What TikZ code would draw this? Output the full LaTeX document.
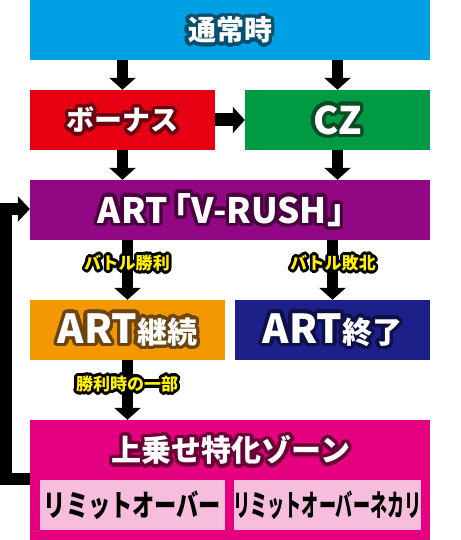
\documentclass[tikz,border=0pt]{standalone}
\usepackage{fontspec}
\newfontfamily\jp{Noto Sans CJK JP}
\usetikzlibrary{arrows.meta}
\definecolor{cTop}{HTML}{00A0E4}\definecolor{oTop}{HTML}{0B4F6E}
\definecolor{cRed}{HTML}{E60012}\definecolor{oRed}{HTML}{6A0010}
\definecolor{cGrn}{HTML}{009944}\definecolor{oGrn}{HTML}{0B4A22}
\definecolor{cPur}{HTML}{920783}\definecolor{oPur}{HTML}{48003F}
\definecolor{cOra}{HTML}{F39800}\definecolor{oOra}{HTML}{6B4410}
\definecolor{cNav}{HTML}{1D2088}\definecolor{oNav}{HTML}{0E104A}
\definecolor{cMag}{HTML}{E4007F}\definecolor{oMag}{HTML}{690036}
\definecolor{cPnk}{HTML}{F6BEDC}
\definecolor{cYel}{HTML}{FFF100}
\newcommand\olx[3]{%
  \setbox0=\hbox{#3}%
  \foreach \ang in {0,15,...,345}{%
    \pgfmathsetlengthmacro\dx{#1*cos(\ang)}%
    \pgfmathsetlengthmacro\dy{#1*sin(\ang)}%
    \rlap{\kern\dx\raisebox{\dy}{\color{#2}\copy0}}%
  }%
  \box0}
\newcommand\fs[1]{\fontsize{#1}{#1}\selectfont}
\begin{document}
\begin{tikzpicture}[x=1pt,y=-1pt,
  box/.style={draw=none,inner sep=0pt,minimum width=#1,anchor=center,text=white,font=\jp\bfseries},
  arr/.style={line width=11pt,-{Triangle[width=26pt,length=12pt]}},
  lbl/.style={inner sep=0pt,text=cYel,font=\jp\bfseries\fs{17}}]
\useasboundingbox (0,0) rectangle (460,540);
\node[box=400pt,minimum height=60pt,fill=cTop] (top) at (230,30) {\fs{28}\olx{3.5pt}{oTop}{通常時}};
\node[box=185pt,minimum height=60pt,fill=cRed] (bonus) at (122.5,120) {\fs{28}\olx{3.5pt}{oRed}{ボーナス}};
\node[box=185pt,minimum height=60pt,fill=cGrn] (cz) at (337.5,120) {\fs{38}\olx{3.5pt}{oGrn}{CZ}};
\node[box=400pt,minimum height=60pt,fill=cPur] (art) at (230,210) {\fs{35}\olx{3.5pt}{oPur}{ART\kern-11pt「V-RUSH」}};
\node[box=195pt,minimum height=60pt,fill=cOra] (cont) at (127.5,330) {\olx{3.5pt}{oOra}{\fs{40}ART\fs{30}継続}};
\node[box=195pt,minimum height=60pt,fill=cNav] (end) at (332.5,330) {\olx{3.5pt}{oNav}{\fs{40}ART\fs{30}終了}};
\node[box=400pt,minimum height=120pt,fill=cMag] (zone) at (230,480) {};
\node[box=0pt,inner sep=0pt] (zonet) at (231,450) {\fs{30}\olx{3.5pt}{oMag}{上乗せ特化ゾーン}};
\node[box=185pt,minimum height=50pt,fill=cPnk,text=black] (lim1) at (132.5,505) {\fs{30}\scalebox{0.74}[1]{リミットオーバー}};
\node[box=185pt,minimum height=50pt,fill=cPnk,text=black] (lim2) at (327.5,505) {\fs{30}\scalebox{0.57}[1]{リミットオーバーネカリ}};
\draw[arr] (bonus.north |- top.south) -- (bonus.north);
\draw[arr] (cz.north |- top.south) -- (cz.north);
\draw[arr,line width=13pt] (bonus.east) -- (cz.west);
\draw[arr] (bonus.south) -- (bonus.south |- art.north);
\draw[arr] (cz.south) -- (cz.south |- art.north);
\draw[arr] (cont.north |- art.south) -- (cont.north);
\draw[arr] (end.north |- art.south) -- (end.north);
\draw[arr] (cont.south) -- (cont.south |- zone.north);
\coordinate (fb1) at (6,479);
\coordinate (fb2) at (6,209);
\draw[arr,line width=12pt,line join=miter,-{Triangle[width=25pt,length=12pt]}] (fb1 -| zone.west) -- (fb1) -- (fb2) -- (fb2 -| art.west);
\node[lbl] (l1) at (127,263) {\olx{2.8pt}{black}{バトル勝利}};
\node[lbl] (l2) at (333,263) {\olx{2.8pt}{black}{バトル敗北}};
\node[lbl] (l3) at (127,384) {\olx{2.8pt}{black}{勝利時の一部}};
\end{tikzpicture}
\end{document}
